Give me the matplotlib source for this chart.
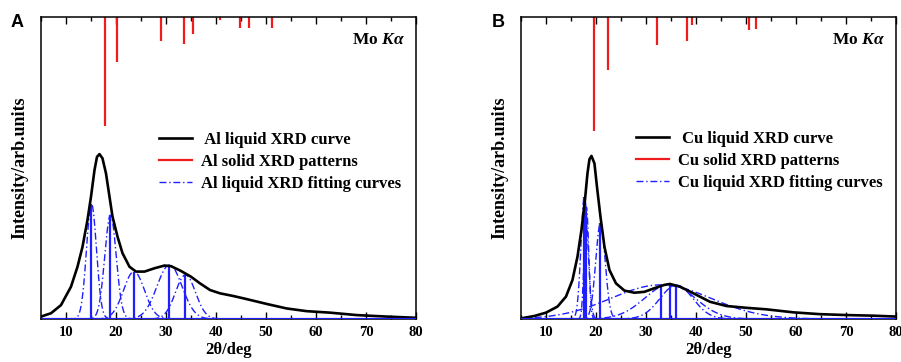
import numpy as np
import matplotlib.pyplot as plt
from matplotlib.ticker import MultipleLocator

plt.rcParams['font.family'] = ['Liberation Serif', 'DejaVu Serif']
plt.rcParams['font.weight'] = 'bold'
plt.rcParams['axes.labelweight'] = 'bold'
plt.rcParams['mathtext.fontset'] = 'custom'
plt.rcParams['mathtext.rm'] = 'Liberation Serif:bold'
plt.rcParams['mathtext.it'] = 'Liberation Serif:bold:italic'

# ---- panel A : Al ----
al_x = [5, 7, 9, 11, 12.3, 13.3, 14.3, 15, 15.7, 16.2, 16.7, 17.3, 18, 18.7,
        19.3, 20.3, 21.3, 22.7, 24, 25.7, 27.7, 29.7, 31, 33, 35, 36.8,
        38.8, 40.8, 43.5, 46.1, 50.1, 54.1, 58.1, 62.8, 68.1, 74.1, 80]
al_y = [0.8, 1.9, 4.6, 10.7, 17.3, 23.9, 32.8, 40.5, 49.3, 53.7, 54.6, 53.2,
        48.2, 40.5, 33.9, 27.3, 21.8, 17.3, 15.7, 15.7, 16.8, 17.7, 17.5,
        15.9, 14.0, 11.8, 9.6, 8.5, 7.6, 6.6, 5.0, 3.5, 2.6, 2.1, 1.3, 0.8,
        0.4]
al_fit_center = [15.1, 18.9, 23.6, 30.7, 33.9]
al_fit_height = [38.1, 34.4, 15.7, 17.9, 14.6]
al_fit_width = [1.0, 1.15, 2.1, 2.5, 2.0]
al_solid_pos = [17.9, 20.2, 29.0, 33.7, 35.5, 40.8, 44.9, 46.7, 51.3]
al_solid_int = [36.1, 15.0, 7.9, 8.8, 5.5, 0.9, 3.5, 3.5, 3.5]

# ---- panel B : Cu ----
cu_x = [5, 7.7, 10, 12.3, 14, 15.3, 16.3, 17.1, 17.8, 18.3, 18.7, 19.1, 19.7,
        20.2, 20.9, 21.7, 22.7, 24, 25.7, 27.7, 29.7, 31.7, 33.7, 34.8,
        36.8, 39.5, 42.8, 46.1, 50.1, 54.1, 59.5, 64.8, 70.1, 75.5, 80]
cu_y = [0.2, 1.0, 2.1, 4.1, 7.4, 12.9, 20.6, 29.5, 39.4, 48.2, 52.9, 54.0,
        51.5, 43.8, 33.9, 23.9, 16.2, 11.8, 9.4, 8.7, 9.0, 10.2, 11.3, 11.6,
        10.7, 8.5, 5.7, 4.3, 3.7, 3.2, 2.2, 1.6, 1.3, 1.1, 0.8]
cu_fit_center = [17.7, 18.1, 20.9, 33.0, 34.8, 36.1]
cu_fit_height = [40.5, 37.0, 31.7, 11.3, 11.5, 11.2]
cu_fit_width = [0.7, 0.45, 0.95, 10.0, 5.0, 3.3]
cu_solid_pos = [19.6, 22.4, 32.3, 38.3, 39.2, 50.6, 52.1]
cu_solid_int = [37.9, 17.7, 9.2, 7.9, 2.5, 4.4, 3.9]

TOP = 100
blue = '#1f1fff'
red = '#ee1c1c'
dashdot = (0, (5, 2, 1, 2))


def draw(ax, x, y, fc, fh, fw, sp, si, el, lg_x, lg_y):
    xx = np.linspace(5, 80, 1500)
    for c, h, w in zip(fc, fh, fw):
        g = h * np.exp(-0.5 * ((xx - c) / w) ** 2)
        ax.plot(xx, g, color=blue, lw=1.0, ls=dashdot)
    ax.vlines(fc, 0, fh, color=blue, lw=1.6)
    ax.axhline(0, color=blue, lw=1.6, zorder=3)
    ax.plot(x, y, color='black', lw=1.9, label=' %s liquid XRD curve' % el)
    ax.vlines(sp, TOP - np.array(si), TOP, color=red, lw=1.6)
    ax.plot([], [], color=red, lw=1.6, label='%s solid XRD patterns' % el)
    ax.plot([], [], color=blue, lw=1.0, ls=dashdot,
            label='%s liquid XRD fitting curves' % el)

    ax.set_xlim(5, 80)
    ax.set_ylim(0, TOP)
    ax.xaxis.set_major_locator(MultipleLocator(10))
    ax.xaxis.set_minor_locator(MultipleLocator(5))
    ax.set_yticks([])
    ax.tick_params(axis='x', which='both', direction='in', top=True,
                   labelsize=10.5, pad=5)
    ax.tick_params(axis='x', which='major', length=5, width=1)
    ax.tick_params(axis='x', which='minor', length=3, width=1)
    for s in ax.spines.values():
        s.set_linewidth(1.1)
    ax.set_xlabel('2θ/deg', fontsize=12, labelpad=2)
    ax.set_ylabel('Intensity/arb.units', fontsize=13, labelpad=9)
    ax.text(0.9, 0.925, r'Mo $K\alpha$', transform=ax.transAxes,
            ha='center', va='center', fontsize=12.5)
    ax.legend(loc='upper left', bbox_to_anchor=(lg_x, lg_y), frameon=False,
              fontsize=12, handlelength=2.0, handletextpad=0.5,
              labelspacing=0.36, borderpad=0, borderaxespad=0)


fig = plt.figure(figsize=(9.01, 3.62), dpi=100)
axA = fig.add_axes([0.0455, 0.1188, 0.4162, 0.8342])
axB = fig.add_axes([0.5782, 0.1188, 0.4162, 0.8342])

draw(axA, al_x, al_y, al_fit_center, al_fit_height, al_fit_width,
     al_solid_pos, al_solid_int, 'Al', 0.315, 0.62)
draw(axB, cu_x, cu_y, cu_fit_center, cu_fit_height, cu_fit_width,
     cu_solid_pos, cu_solid_int, 'Cu', 0.307, 0.623)

fig.text(0.012, 0.962, 'A', fontsize=13, family='Liberation Sans',
         weight='bold', va='top')
fig.text(0.546, 0.962, 'B', fontsize=13, family='Liberation Sans',
         weight='bold', va='top')

fig.savefig('out.png', dpi=100)
